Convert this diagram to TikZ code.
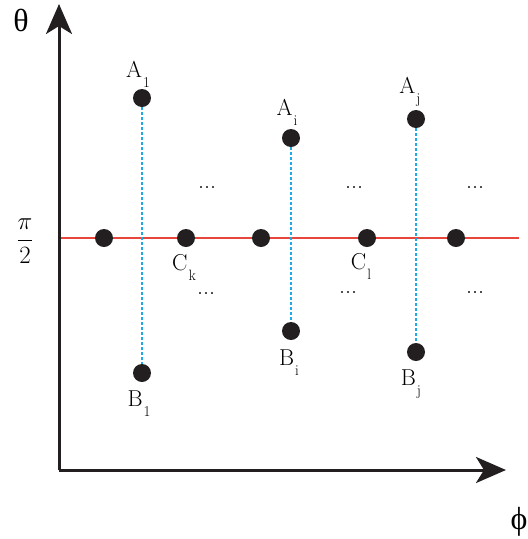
\documentclass[tikz,border=0pt]{standalone}
\usepackage{fontspec}
\newfontfamily\gkfont{Liberation Serif}
\usetikzlibrary{arrows.meta}
\definecolor{dotc}{HTML}{231F20}
\definecolor{cyanl}{HTML}{1EAAE6}
\definecolor{redl}{HTML}{E8453C}
\newcommand\sbs[1]{\hspace{1pt}\raisebox{-10pt}{\fontsize{15}{15}\selectfont #1}}
\begin{document}
\begin{tikzpicture}[x=1pt,y=-1pt,
  pt/.style={circle,fill=dotc,inner sep=0pt,minimum size=18pt},
  lab/.style={font=\fontsize{23}{26}\selectfont,inner sep=0pt,anchor=base},
  dts/.style={font=\fontsize{24}{26}\selectfont,inner sep=0pt,anchor=base},
  gk/.style={font=\gkfont\fontsize{32}{34}\selectfont,inner sep=0pt},
  axis/.style={line width=3pt,draw=dotc,-{Stealth[length=30pt,width=26pt,inset=8pt]}},
  vline/.style={cyanl,line width=1.8pt,dash pattern=on 3pt off 2pt},
  hline/.style={redl,line width=1.3pt}]
\useasboundingbox (0,0) rectangle (528,539);
% axes
\coordinate (O) at (59,470);
\coordinate (ytop) at (59,4);
\coordinate (xend) at (506,470);
\coordinate (hl) at (59,238);
\coordinate (hr) at (519,238);
\draw[hline] (hl) -- (hr);
% points
\node[pt] (A1) at (142,98) {};
\node[pt] (B1) at (142,373) {};
\node[pt] (Ai) at (291,138) {};
\node[pt] (Bi) at (291,331) {};
\node[pt] (Aj) at (416,119) {};
\node[pt] (Bj) at (416,352) {};
\draw[vline] (A1) -- (B1);
\draw[vline] (Ai) -- (Bi);
\draw[vline] (Aj) -- (Bj);
\node[pt] (C1) at (104,238) {};
\node[pt] (Ck) at (186,238) {};
\node[pt] (C3) at (261,238) {};
\node[pt] (Cl) at (367,238) {};
\node[pt] (C5) at (456,238) {};
\draw[axis] (O) -- (ytop);
\draw[axis] (O) -- (xend);
% labels
\node[lab] (tA1) at (138,77) {A\sbs{1}};
\node[lab] (tAi) at (287,115) {A\sbs{i}};
\node[lab] (tAj) at (410,93) {A\sbs{j}};
\node[lab] (tB1) at (139,406) {B\sbs{1}};
\node[lab] (tBi) at (289,365) {B\sbs{i}};
\node[lab] (tBj) at (411,385) {B\sbs{j}};
\node[lab] (tCk) at (184,270) {C\sbs{k}};
\node[lab] (tCl) at (361,269) {C\sbs{l}};
\node[dts] (d1) at (207,188) {...};
\node[dts] (d2) at (354,188) {...};
\node[dts] (d3) at (475,188) {...};
\node[dts] (d4) at (206,294) {...};
\node[dts] (d5) at (348,293) {...};
\node[dts] (d6) at (475,293) {...};
\node[gk] (th) at (21,20) {θ};
\node[lab,anchor=center,font=\fontsize{25}{28}\selectfont] (pi2) at (25,241) {$\displaystyle\frac{\pi}{2}$};
\node[gk] (ph) at (519,522) {ϕ};
\end{tikzpicture}
\end{document}
